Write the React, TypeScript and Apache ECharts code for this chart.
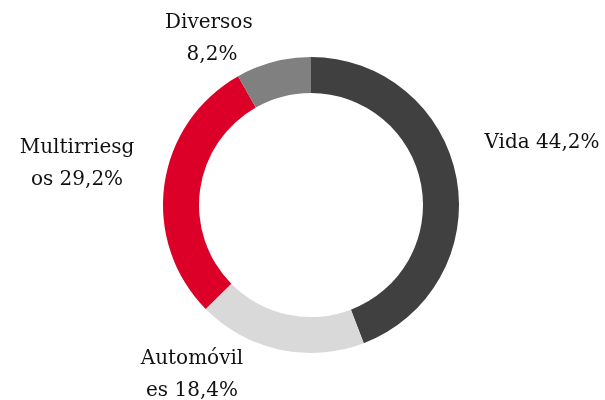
import React, { useEffect, useRef } from "react";
import * as echarts from "echarts";

const categories = ["Vida", "Automóviles", "Multirriesgos", "Diversos"];
const shares = [44.2, 18.4, 29.2, 8.2];
const colors = ["#404040", "#d9d9d9", "#dc0028", "#808080"];
// label layout only
const labelPos: [number, number][] = [
  [542, 141],
  [192, 373],
  [77, 162],
  [212, 37],
];
const labelWidths = [122, 122, 122, 100];

export default function App() {
  const ref = useRef<HTMLDivElement>(null);
  useEffect(() => {
    if (!ref.current) return;
    const chart = echarts.init(ref.current, undefined, { renderer: "svg" });
    chart.setOption({
      animation: false,
      color: colors,
      series: [
        {
          type: "pie",
          center: [311, 205],
          radius: [112, 148],
          startAngle: 90,
          clockwise: true,
          silent: true,
          data: categories.map((c, i) => ({
            name: c,
            value: shares[i],
            label: { width: labelWidths[i] },
          })),
          itemStyle: { borderWidth: 0 },
          label: {
            show: true,
            position: "outside",
            formatter: (p: any) =>
              `${p.name} ${Number(p.value).toFixed(1).replace(".", ",")}%`,
            fontFamily: "DejaVu Serif",
            fontSize: 20,
            lineHeight: 32,
            color: "#111111",
            width: 122,
            overflow: "break",
            align: "center",
          },
          labelLine: { show: false },
          labelLayout: (p: any) => ({
            x: labelPos[p.dataIndex][0],
            y: labelPos[p.dataIndex][1],
            align: "center",
            verticalAlign: "middle",
          }),
        },
      ],
    });
    return () => chart.dispose();
  }, []);
  return (
    <div
      ref={ref}
      style={{ position: "fixed", left: 0, top: 0, width: 605, height: 400 }}
    />
  );
}
